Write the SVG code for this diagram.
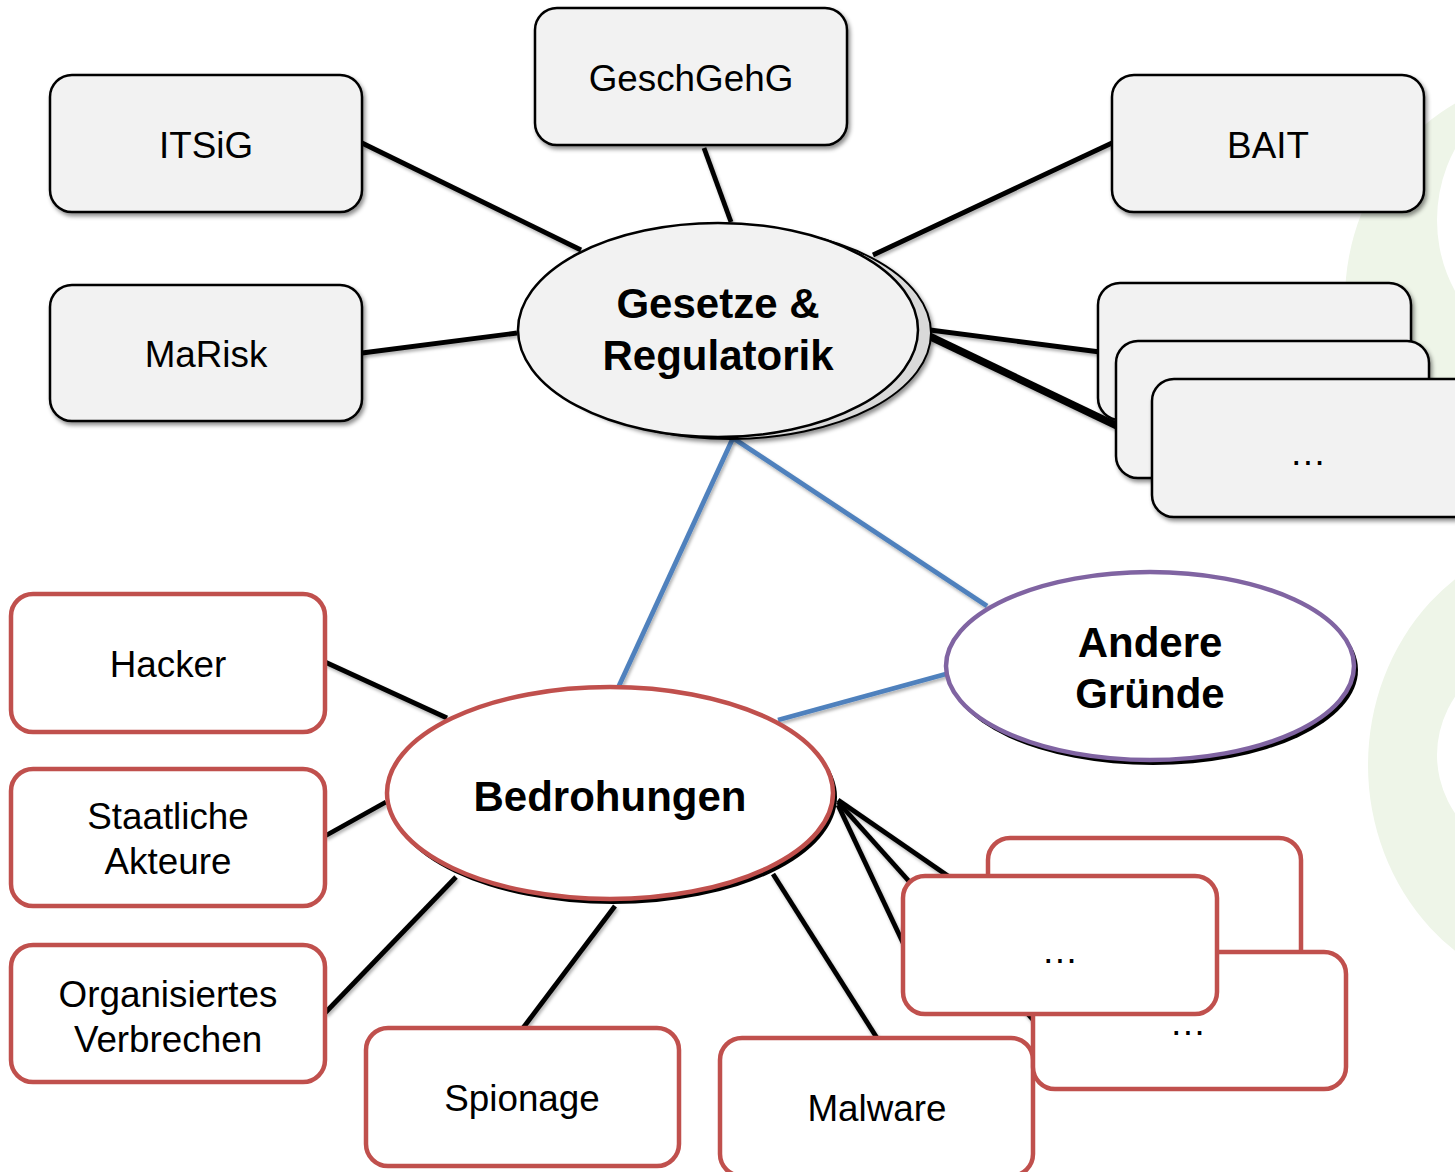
<svg xmlns="http://www.w3.org/2000/svg" width="1455" height="1172" viewBox="0 0 1455 1172">
<defs>
<filter id="sh" x="-10%" y="-10%" width="130%" height="130%">
<feDropShadow dx="2" dy="3" stdDeviation="2" flood-color="#000" flood-opacity="0.45"/>
</filter>
<filter id="lsh" x="-10%" y="-10%" width="130%" height="130%">
<feDropShadow dx="1.5" dy="2.5" stdDeviation="1.8" flood-color="#000" flood-opacity="0.3"/>
</filter>
<style>
.gbox{fill:#f2f2f2;stroke:#000;stroke-width:2.5;filter:url(#sh)}
.rbox{fill:#fff;stroke:#c0504d;stroke-width:4.5}
.t{font-family:"Liberation Sans",Arial,sans-serif;font-size:36.8px;fill:#000;text-anchor:middle}
.tb{font-family:"Liberation Sans",Arial,sans-serif;font-size:42px;font-weight:bold;fill:#000;text-anchor:middle}
.k{stroke:#000;stroke-width:4.8;fill:none}
.b{stroke:#4f81bd;stroke-width:4.8;fill:none}
.bg{fill:#eef5e8;fill-rule:evenodd}
</style>
</defs>
<rect width="1455" height="1172" fill="#fff"/>
<g id="background">
<path class="bg" d="M1345,300 a215,225 0 1,0 430,0 a215,225 0 1,0 -430,0 Z M1437,220 a130,140 0 1,0 260,0 a130,140 0 1,0 -260,0 Z"/>
<path class="bg" d="M1368,765 a212,230 0 1,0 424,0 a212,230 0 1,0 -424,0 Z M1437,755 a143,120 0 1,0 286,0 a143,120 0 1,0 -286,0 Z"/>
</g>
<g id="connectors" filter="url(#lsh)">
<line class="k" x1="704" y1="148" x2="731" y2="222"/>
<line class="k" x1="362" y1="143" x2="581" y2="250"/>
<line class="k" x1="1112" y1="143" x2="873" y2="255"/>
<line class="k" x1="362" y1="353" x2="517" y2="333"/>
<line class="k" x1="930" y1="330" x2="1100" y2="352"/>
<line class="k" x1="930" y1="335" x2="1118" y2="425"/>
<line class="k" x1="930" y1="338" x2="1154" y2="445"/>
<line class="b" x1="733" y1="438" x2="618" y2="688"/>
<line class="b" x1="733" y1="438" x2="987" y2="606"/>
<line class="b" x1="778" y1="720" x2="946" y2="674"/>
<line class="k" x1="325" y1="662" x2="447" y2="718"/>
<line class="k" x1="325" y1="836" x2="386" y2="802"/>
<line class="k" x1="325" y1="1013" x2="456" y2="877"/>
<line class="k" x1="523" y1="1028" x2="615" y2="906"/>
<line class="k" x1="877" y1="1038" x2="773" y2="874"/>
<line class="k" x1="838" y1="800" x2="990" y2="905"/>
<line class="k" x1="838" y1="805" x2="905" y2="947"/>
<line class="k" x1="838" y1="802" x2="1035" y2="1022"/>
</g>
<g id="n-gesetze">
<ellipse cx="730" cy="333" rx="201" ry="106" fill="#d9d9d9" stroke="#000" stroke-width="2" filter="url(#sh)"/>
<ellipse cx="718" cy="330" rx="200" ry="107" fill="#f2f2f2" stroke="#000" stroke-width="2.5"/>
<text class="tb" x="718" y="318">Gesetze &amp;</text>
<text class="tb" x="718" y="370">Regulatorik</text>
</g>
<g id="n-geschgehg"><rect class="gbox" x="535" y="8" width="312" height="137" rx="22"/><text class="t" x="691" y="91">GeschGehG</text></g>
<g id="n-itsig"><rect class="gbox" x="50" y="75" width="312" height="137" rx="22"/><text class="t" x="206" y="158">ITSiG</text></g>
<g id="n-bait"><rect class="gbox" x="1112" y="75" width="312" height="137" rx="22"/><text class="t" x="1268" y="158">BAIT</text></g>
<g id="n-marisk"><rect class="gbox" x="50" y="285" width="312" height="136" rx="22"/><text class="t" x="206" y="367">MaRisk</text></g>
<g id="n-stack-top">
<rect class="gbox" x="1098" y="283" width="313" height="137" rx="22"/>
<rect class="gbox" x="1116" y="341" width="313" height="137" rx="22"/>
<rect class="gbox" x="1152" y="379" width="330" height="138" rx="22"/>
<text class="t" x="1308" y="465">…</text>
</g>
<g id="n-andere">
<ellipse cx="1153" cy="670" rx="205" ry="95" fill="#000"/>
<ellipse cx="1150" cy="666" rx="204" ry="94" fill="#fff" stroke="#8064a2" stroke-width="4.5"/>
<text class="tb" x="1150" y="657">Andere</text>
<text class="tb" x="1150" y="708">Gründe</text>
</g>
<g id="n-bedrohungen">
<ellipse cx="613" cy="797" rx="224" ry="107" fill="#000"/>
<ellipse cx="610" cy="793" rx="223" ry="106" fill="#fff" stroke="#c0504d" stroke-width="4.5"/>
<text class="tb" x="610" y="811">Bedrohungen</text>
</g>
<g id="n-hacker"><rect class="rbox" x="11" y="594" width="314" height="138" rx="22"/><text class="t" x="168" y="677">Hacker</text></g>
<g id="n-staatliche"><rect class="rbox" x="11" y="769" width="314" height="137" rx="22"/><text class="t" x="168" y="829">Staatliche</text><text class="t" x="168" y="874">Akteure</text></g>
<g id="n-organisiert"><rect class="rbox" x="11" y="945" width="314" height="137" rx="22"/><text class="t" x="168" y="1007">Organisiertes</text><text class="t" x="168" y="1052">Verbrechen</text></g>
<g id="n-spionage"><rect class="rbox" x="366" y="1028" width="313" height="138" rx="22"/><text class="t" x="522" y="1111">Spionage</text></g>
<g id="n-malware"><rect class="rbox" x="720" y="1038" width="313" height="138" rx="22"/><text class="t" x="877" y="1121">Malware</text></g>
<g id="n-stack-bottom">
<rect class="rbox" x="988" y="838" width="313" height="137" rx="22"/>
<rect class="rbox" x="1033" y="952" width="313" height="137" rx="22"/>
<text class="t" x="1188" y="1035">…</text>
<rect class="rbox" x="903" y="876" width="314" height="138" rx="22"/>
<text class="t" x="1060" y="963">…</text>
</g>
</svg>
